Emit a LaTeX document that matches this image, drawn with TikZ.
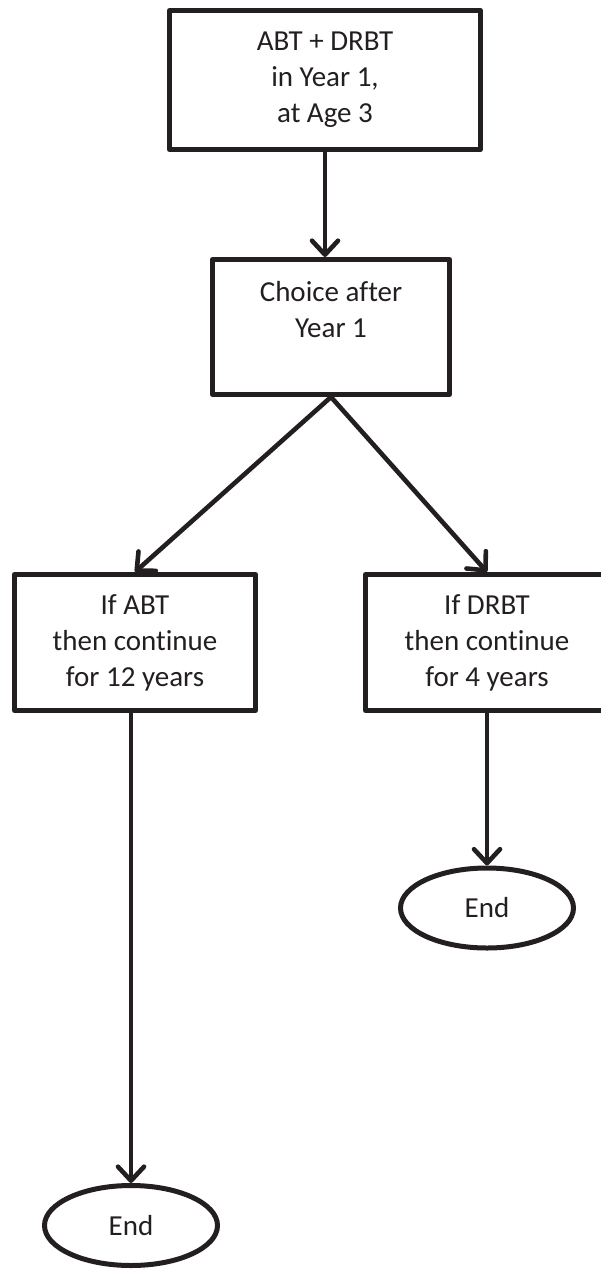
\documentclass[tikz,border=0pt]{standalone}
\usepackage{fontspec}
\setmainfont{Carlito}[Ligatures={NoCommon,NoContextual}]
\usetikzlibrary{arrows.meta,shapes.geometric}
\definecolor{ink}{HTML}{231F20}
\begin{document}
\begin{tikzpicture}[x=1pt,y=-1pt,
  box/.style={draw=ink, line width=5pt, line join=round, rectangle, inner sep=0pt,
    align=center, text=ink, font=\fontsize{29}{36}\selectfont},
  endnode/.style={draw=ink, line width=5pt, ellipse, inner sep=0pt,
    minimum width=173pt, minimum height=80pt, text=ink, font=\fontsize{29}{36}\selectfont},
  conn/.style={draw=ink, line width=4.6pt, line cap=round,
    -{Straight Barb[length=14pt,width=26pt,line cap=round,line join=round]}}]
\useasboundingbox (0,0) rectangle (601,1272);
\clip (0,0) rectangle (601,1272);
\node[box, minimum width=311pt, minimum height=139pt] (start) at (325,80)
  {ABT + DRBT\\in Year 1,\\at Age 3};
\node[box, minimum width=237pt, minimum height=135pt] (choice) at (331,327)
  {Choice after\\Year 1\\\mbox{}};
\node[box, minimum width=241pt, minimum height=136pt] (abt) at (135,642.5)
  {If ABT\\then continue\\for 12 years};
\node[box, minimum width=243pt, minimum height=136pt] (drbt) at (487,642.5)
  {If DRBT\\then continue\\for 4 years};
\node[endnode] (endl) at (131,1225.5) {End};
\node[endnode] (endr) at (487,908) {End};
\draw[conn] (start.south) -- (start.south |- choice.north);
\draw[conn] (choice.south) -- (abt.north);
\draw[conn] (choice.south) -- (drbt.north);
\draw[conn] (abt.south -| endl.north) -- (endl.north);
\draw[conn] (drbt.south -| endr.north) -- (endr.north);
\end{tikzpicture}
\end{document}
